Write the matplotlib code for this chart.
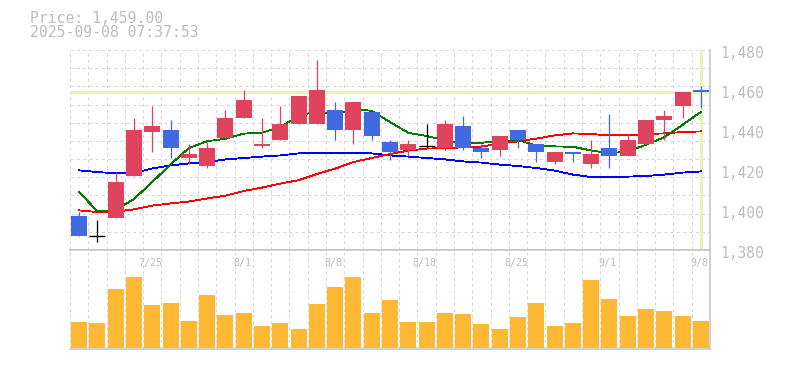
import matplotlib
matplotlib.use('Agg')
import matplotlib.pyplot as plt
import matplotlib.transforms as mtransforms
import numpy as np

# daily candles, 7/18 .. 9/8
dates = ['7/18', '7/22', '7/23', '7/24', '7/25', '7/28', '7/29', '7/30', '7/31', '8/1',
         '8/4', '8/5', '8/6', '8/7', '8/8', '8/12', '8/13', '8/14', '8/15', '8/18',
         '8/19', '8/20', '8/21', '8/22', '8/25', '8/26', '8/27', '8/28', '8/29', '9/1',
         '9/2', '9/3', '9/4', '9/5', '9/8']
opens  = [1397, 1387, 1396, 1417, 1439, 1440, 1426, 1422, 1436, 1446,
          1432, 1435, 1443, 1443, 1450, 1440, 1449, 1434, 1430, 1432,
          1431, 1442, 1431, 1430, 1440, 1433, 1424, 1429, 1423, 1431,
          1427, 1433, 1445, 1452, 1460]
highs  = [1399, 1395, 1419, 1446, 1452, 1445, 1433, 1434, 1450, 1460,
          1446, 1452, 1457, 1475, 1454, 1454, 1449, 1435, 1435, 1443,
          1445, 1447, 1433, 1437, 1440, 1433, 1429, 1429, 1435, 1448,
          1438, 1445, 1450, 1459, 1462]
lows   = [1387, 1384, 1396, 1417, 1429, 1426, 1423, 1421, 1436, 1446,
          1431, 1435, 1443, 1443, 1435, 1433, 1435, 1425, 1427, 1431,
          1430, 1430, 1426, 1427, 1431, 1424, 1423, 1424, 1421, 1421,
          1427, 1433, 1435, 1446, 1451]
closes = [1387, 1387, 1414, 1440, 1442, 1431, 1428, 1431, 1446, 1455,
          1433, 1443, 1457, 1460, 1440, 1454, 1437, 1429, 1433, 1432,
          1443, 1431, 1429, 1437, 1435, 1429, 1429, 1428, 1428, 1427,
          1435, 1445, 1447, 1459, 1459]
volumes = [26000, 25000, 59000, 71000, 43000, 45000, 27000, 53000, 33000, 35000,
           22000, 25000, 19000, 44000, 61000, 71000, 35000, 48000, 26000, 26000,
           35000, 34000, 24000, 19000, 31000, 45000, 22000, 25000, 68000, 49000,
           32000, 39000, 37000, 32000, 27000]

ma_short = [1409.0, 1399.3, 1400.0, 1405.5, 1414.0, 1422.8, 1431.0, 1434.4, 1435.6, 1438.2,
            1438.6, 1441.6, 1446.8, 1449.6, 1447.5, 1450.5, 1449.6, 1444.0, 1438.6, 1437.0,
            1434.8, 1433.6, 1433.6, 1434.4, 1435.0, 1432.2, 1431.8, 1431.6, 1429.8, 1428.4,
            1429.2, 1432.6, 1436.4, 1442.6, 1449.0]
ma_mid = [1399.8, 1399.0, 1399.2, 1400.3, 1402.2, 1403.3, 1404.2, 1405.8, 1407.2, 1409.5,
          1411.2, 1413.2, 1414.9, 1418.0, 1420.7, 1424.0, 1426.0, 1428.0, 1429.7, 1430.7,
          1431.0, 1431.3, 1431.7, 1433.3, 1434.3, 1435.7, 1437.3, 1438.3, 1438.0, 1437.3,
          1437.3, 1438.0, 1438.3, 1439.0, 1439.3]
ma_long = [1419.8, 1419.0, 1418.3, 1418.5, 1420.8, 1422.3, 1423.3, 1424.0, 1425.3, 1426.0,
           1426.7, 1427.3, 1428.3, 1428.7, 1428.7, 1428.7, 1428.3, 1427.3, 1426.7, 1426.0,
           1425.3, 1424.3, 1423.7, 1422.7, 1422.0, 1421.0, 1419.7, 1417.7, 1416.5, 1416.3,
           1416.7, 1417.0, 1417.7, 1418.7, 1419.3]

tick_dates = ['7/25', '8/1', '8/8', '8/18', '8/25', '9/1', '9/8']
price_ticks = [1380, 1400, 1420, 1440, 1460, 1480]
last_price = 1459.00
timestamp = '2025-09-08 07:37:53'

UP = '#e0435e'
DOWN = '#4169e1'
VOL = '#fdb933'
HILITE = '#e6f5b2'
GRID = '#d6d6d6'
FRAME = '#c4c4c4'
TXT = '#bdbdbd'
MONO = 'DejaVu Sans Mono'

W, H = 785, 370
fig = plt.figure(figsize=(W / 100, H / 100), dpi=100, facecolor='white')
ax = fig.add_axes([70 / W, (H - 250) / H, 640 / W, 200 / H])
axv = fig.add_axes([70 / W, (H - 349) / H, 640 / W, 99 / H])

n = len(dates)
x = np.arange(n)
o = np.array(opens); c = np.array(closes)
hi = np.array(highs); lo = np.array(lows)

for a in (ax, axv):
    a.set_xlim(-0.5, n - 0.5)
    a.set_xticks([]); a.set_yticks([])
    for s in a.spines.values():
        s.set_visible(False)
    # cell grid, one column per session
    for b in np.arange(-0.5, n - 0.5):
        a.axvline(b, color=GRID, lw=0.75, ls=(0, (3, 3)), zorder=0, clip_on=False)
    a.axvline(n - 0.5, color=FRAME, lw=1.1, zorder=5, clip_on=False)

ax.set_ylim(1380, 1480)
for k in range(1, 12):
    ax.axhline(1380 + k * 100 / 11, color=GRID, lw=0.75, ls=(0, (3, 3)), zorder=0, clip_on=False)
ax.axhline(1380, color=FRAME, lw=1.1, zorder=5, clip_on=False)

# current price / last session highlight
ax.axhline(last_price, color=HILITE, lw=2.2, zorder=1)
ax.axvline(x[-1], color=HILITE, lw=2.2, zorder=1)

ax.plot(x, ma_long, color='#0000ff', lw=0.6, zorder=2, antialiased=False)
ax.plot(x, ma_mid, color='#ff0000', lw=0.6, zorder=2, antialiased=False)
ax.plot(x, ma_short, color='#007a00', lw=0.6, zorder=2, antialiased=False)

colors = np.where(c > o, UP, np.where(c < o, DOWN, 'black'))
ax.vlines(x, lo, hi, colors=colors, lw=0.9, zorder=3)
body = c != o
ax.bar(x[body], np.abs(c - o)[body], bottom=np.minimum(o, c)[body], width=0.875,
       color=colors[body], zorder=4, antialiased=False)
ax.hlines(c[~body], x[~body] - 0.4375, x[~body] + 0.4375, colors='black', lw=1.0, zorder=4)

# right-hand price labels
off = mtransforms.ScaledTranslation(0, -0.075, fig.dpi_scale_trans)
for p in price_ticks:
    ax.text(1.0 + 10 / 640, p, f'{p:,}', transform=ax.get_yaxis_transform() + off,
            ha='left', va='baseline', color=TXT, fontsize=10.5, family=MONO, clip_on=False)

# volume panel
axv.set_ylim(-1000, 98000)
axv.bar(x, volumes, width=0.875, color=VOL, zorder=3, antialiased=False)
axv.axhline(98000, color=FRAME, lw=1.1, zorder=5, clip_on=False)
axv.axhline(-1000, color=FRAME, lw=1.1, zorder=5, clip_on=False)
for lbl in tick_dates:
    i = dates.index(lbl)
    axv.text(i - 0.1, 0.84, lbl, transform=axv.get_xaxis_transform(), ha='center',
             va='baseline', color=TXT, fontsize=7.2, family=MONO)

fig.text(30 / W, 1 - 22.7 / H, f'Price: {last_price:,.2f}', color=TXT, fontsize=10.6,
         family=MONO, va='baseline', ha='left')
fig.text(30 / W, 1 - 37.3 / H, timestamp, color=TXT, fontsize=10.6,
         family=MONO, va='baseline', ha='left')

fig.savefig('out.png', dpi=100, facecolor='white')
